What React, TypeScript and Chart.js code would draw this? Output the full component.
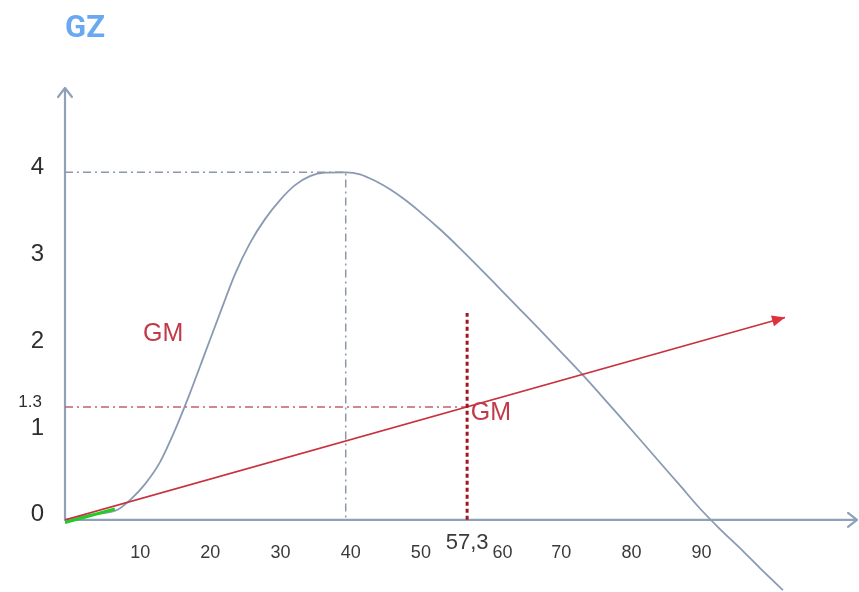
import React, { useEffect, useRef } from "react";
import { Chart, registerables } from "chart.js";

Chart.register(...registerables);

// Righting lever curve: heel angle (deg) vs GZ
const heelAngles = [
  0, 3.7, 7.41, 9.26, 11.4, 13.54, 15.67, 17.81, 19.95, 22.09, 24.23, 26.36, 28.5, 30.64,
  32.78, 34.91, 37.05, 40, 42.04, 44.17, 46.31, 48.45, 50.58, 53.43, 56.28, 59.13, 61.98,
  64.83, 67.68, 70.53, 73.38, 76.23, 79.08, 81.93, 84.78, 87.63, 90.48, 93.33, 96.18, 99.03, 102.31,
];
const gzValues = [
  0, 0.06, 0.113, 0.228, 0.412, 0.665, 1.033, 1.459, 1.919, 2.379, 2.828, 3.185, 3.461, 3.68,
  3.852, 3.956, 3.996, 4.0, 3.977, 3.902, 3.804, 3.683, 3.545, 3.344, 3.125, 2.895, 2.659,
  2.423, 2.187, 1.945, 1.703, 1.448, 1.189, 0.925, 0.66, 0.396, 0.131, -0.106, -0.325, -0.555, -0.808,
];

// GM tangent drawn from the origin through (57.3°, GM)
const gmLineX = [0, 102.6];
const gmLineY = [0, 2.33];

// initial slope of the curve
const initialSlopeX = [0, 7.1];
const initialSlopeY = [-0.03, 0.125];

// reference values
const GM = 1.3;
const ONE_RADIAN = 57.3;
const GZ_MAX = 4;
const GZ_MAX_ANGLE = 40;
const radianMarkTop = 2.38;

// tick labels
const xTicks = [10, 20, 30, 40, 50, 60, 70, 80, 90];
const yTicks = [0, 1, 1.3, 2, 3, 4];
const yTickLabels = ["0", "1", "1.3", "2", "3", "4"];
const radianLabel = "57,3";

const AXIS_COLOR = "#8fa1ba";
const CURVE_COLOR = "#8a9ab3";
const RED = "#c8323f";
const LABEL_COLOR = "#2e2e2e";
const FONT = "'Liberation Sans', Arial, sans-serif";

const pts = (xs: number[], ys: number[]) => xs.map((x, i) => ({ x, y: ys[i] }));

const overlay = {
  id: "stabilityOverlay",
  beforeDatasetsDraw(chart: any) {
    const { ctx, scales } = chart;
    const xs = scales.x;
    const ys = scales.y;
    const x0 = xs.getPixelForValue(0);
    const y0 = ys.getPixelForValue(0);
    const yTop = ys.getPixelForValue(4.97);
    const xEnd = xs.getPixelForValue(113) - 1;
    ctx.save();
    ctx.strokeStyle = AXIS_COLOR;
    ctx.lineWidth = 2.2;
    ctx.lineCap = "round";
    ctx.lineJoin = "round";
    // y axis with open arrow
    ctx.beginPath();
    ctx.moveTo(x0, y0);
    ctx.lineTo(x0, yTop);
    ctx.moveTo(x0 - 7, yTop + 9);
    ctx.lineTo(x0, yTop);
    ctx.lineTo(x0 + 7, yTop + 9);
    ctx.stroke();
    // x axis with open arrow
    ctx.beginPath();
    ctx.moveTo(x0, y0);
    ctx.lineTo(xEnd, y0);
    ctx.moveTo(xEnd - 9, y0 - 7);
    ctx.lineTo(xEnd, y0);
    ctx.lineTo(xEnd - 9, y0 + 7);
    ctx.stroke();
    ctx.restore();
  },
  afterDatasetsDraw(chart: any) {
    const { ctx, scales } = chart;
    const xs = scales.x;
    const ys = scales.y;
    const x0 = xs.getPixelForValue(0);
    const y0 = ys.getPixelForValue(0);

    ctx.save();
    // arrowhead on the GM line
    const ax = xs.getPixelForValue(gmLineX[0]);
    const ay = ys.getPixelForValue(gmLineY[0]);
    const bx = xs.getPixelForValue(gmLineX[gmLineX.length - 1]);
    const by = ys.getPixelForValue(gmLineY[gmLineY.length - 1]);
    const ang = Math.atan2(by - ay, bx - ax);
    const len = 13;
    const half = 5.5;
    ctx.fillStyle = "#e0303d";
    ctx.beginPath();
    ctx.moveTo(bx, by);
    ctx.lineTo(bx - len * Math.cos(ang) + half * Math.sin(ang), by - len * Math.sin(ang) - half * Math.cos(ang));
    ctx.lineTo(bx - len * Math.cos(ang) - half * Math.sin(ang), by - len * Math.sin(ang) + half * Math.cos(ang));
    ctx.closePath();
    ctx.fill();

    // title
    ctx.fillStyle = "#6aa9f2";
    ctx.font = "bold 31px Roboto";
    ctx.textAlign = "left";
    ctx.textBaseline = "alphabetic";
    ctx.fillText("GZ", x0, 37);

    // y tick labels
    ctx.fillStyle = LABEL_COLOR;
    ctx.textAlign = "right";
    ctx.textBaseline = "middle";
    yTicks.forEach((v, i) => {
      const small = yTickLabels[i].length > 1;
      ctx.font = small ? `17px ${FONT}` : `24px ${FONT}`;
      ctx.fillText(yTickLabels[i], x0 - (small ? 23 : 21), ys.getPixelForValue(v) - 5);
    });

    // radian label above the regular tick row
    ctx.textAlign = "center";
    ctx.font = `22px ${FONT}`;
    const rx = xs.getPixelForValue(ONE_RADIAN);
    const rw = ctx.measureText(radianLabel).width;
    ctx.fillStyle = "#3a3a3a";
    ctx.fillText(radianLabel, rx, y0 + 23);

    // x tick labels, nudged clear of the radian label
    ctx.font = `18px ${FONT}`;
    ctx.fillStyle = "#3a3a3a";
    xTicks.forEach((v) => {
      const text = String(v);
      const w = ctx.measureText(text).width;
      let cx = xs.getPixelForValue(v) + 5;
      if (cx - w / 2 < rx + rw / 2 + 3 && cx + w / 2 > rx - rw / 2 - 3) {
        cx = rx + rw / 2 + 4 + w / 2;
      }
      ctx.fillText(text, cx, y0 + 33);
    });

    // GM annotations
    ctx.fillStyle = "#c23a4a";
    ctx.font = `25px ${FONT}`;
    ctx.fillText("GM", xs.getPixelForValue(14), ys.getPixelForValue(2.14));
    ctx.fillText("GM", xs.getPixelForValue(60.7), ys.getPixelForValue(1.23));
    ctx.restore();
  },
};

export default function App() {
  const canvasRef = useRef<HTMLCanvasElement | null>(null);

  useEffect(() => {
    const canvas = canvasRef.current;
    if (!canvas) return;
    const chart = new Chart(canvas, {
      type: "line",
      data: {
        datasets: [
          {
            label: "radian mark",
            data: pts([ONE_RADIAN, ONE_RADIAN], [0, radianMarkTop]),
            borderColor: "#a3151c",
            borderWidth: 3,
            borderDash: [4, 3],
            pointRadius: 0,
            order: 0,
          },
          {
            label: "initial slope",
            data: pts(initialSlopeX, initialSlopeY),
            borderColor: "#22cc22",
            borderWidth: 3,
            pointRadius: 0,
            order: 1,
          },
          {
            label: "GM line",
            data: pts(gmLineX, gmLineY),
            borderColor: RED,
            borderWidth: 1.6,
            pointRadius: 0,
            order: 2,
          },
          {
            label: "GM level",
            data: pts([0, ONE_RADIAN], [GM, GM]),
            borderColor: "#c4606c",
            borderWidth: 1.5,
            borderDash: [8, 4, 2, 4],
            pointRadius: 0,
            order: 3,
          },
          {
            label: "GZ max",
            data: pts([0, GZ_MAX_ANGLE, GZ_MAX_ANGLE], [GZ_MAX, GZ_MAX, 0]),
            borderColor: "#8c97a8",
            borderWidth: 1.5,
            borderDash: [8, 4, 2, 4],
            pointRadius: 0,
            order: 4,
          },
          {
            label: "GZ",
            data: pts(heelAngles, gzValues),
            borderColor: CURVE_COLOR,
            borderWidth: 1.8,
            cubicInterpolationMode: "monotone",
            pointRadius: 0,
            order: 5,
          },
        ],
      },
      options: {
        animation: false,
        responsive: false,
        events: [],
        layout: { padding: { left: 65, right: 1, top: 68, bottom: 0 } },
        scales: {
          x: { type: "linear", min: 0, max: 113, display: false },
          y: { type: "linear", min: -0.83, max: 5.2, display: false },
        },
        plugins: {
          legend: { display: false },
          tooltip: { enabled: false },
          title: { display: false },
        },
      },
      plugins: [overlay],
    });
    return () => chart.destroy();
  }, []);

  return (
    <div style={{ position: "fixed", left: 0, top: 0, width: 859, height: 592, background: "#ffffff" }}>
      <canvas ref={canvasRef} width={859} height={592} style={{ display: "block" }} />
    </div>
  );
}
